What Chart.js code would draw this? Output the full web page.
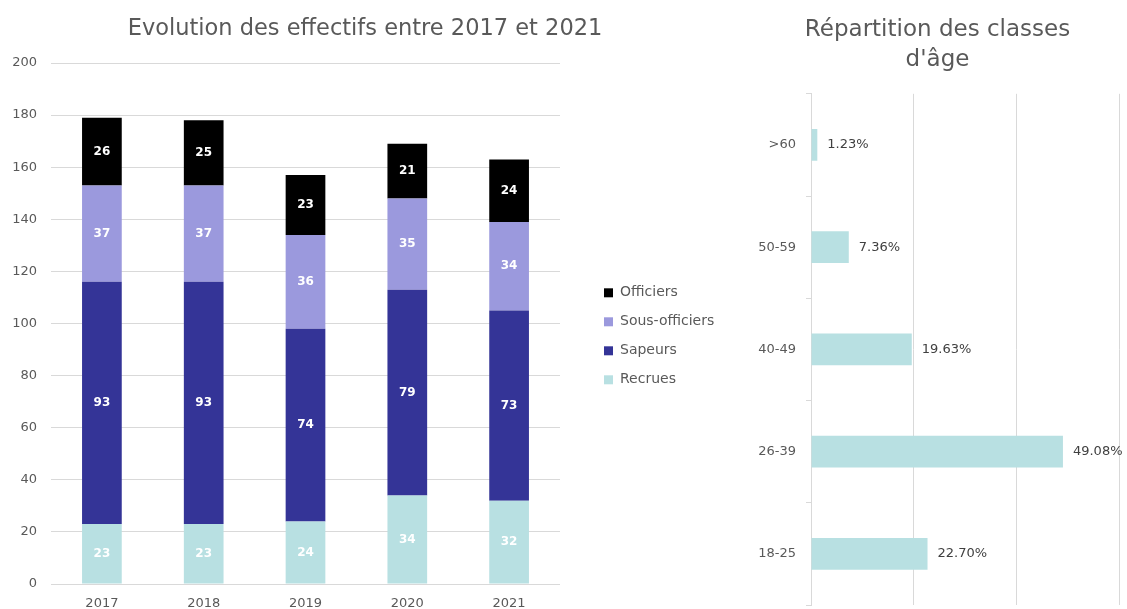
<!DOCTYPE html>
<html>
<head>
<meta charset="utf-8">
<script src="https://cdn.jsdelivr.net/npm/chart.js@4/dist/chart.umd.min.js"></script>
<style>
  html, body { margin: 0; padding: 0; background: #fff; overflow: hidden; width: 1127px; height: 609px; }
  #w1 { position: absolute; left: 0; top: 0; width: 740px; height: 620px; }
  #w2 { position: absolute; left: 756px; top: 0; width: 371px; height: 609px; }
</style>
</head>
<body>
<div id="w1"><canvas id="c1"></canvas></div>
<div id="w2"><canvas id="c2"></canvas></div>
<script>
// ---- Data: left chart ----
const years = ['2017', '2018', '2019', '2020', '2021'];
const recrues = [23, 23, 24, 34, 32];
const sapeurs = [93, 93, 74, 79, 73];
const sousOfficiers = [37, 37, 36, 35, 34];
const officiers = [26, 25, 23, 21, 24];
const yTicksMax = 200;
const yTicksStep = 20;

// ---- Data: right chart ----
const ageClasses = ['>60', '50-59', '40-49', '26-39', '18-25'];
const agePercents = [1.23, 7.36, 19.63, 49.08, 22.70];

const FONT = "'DejaVu Sans', sans-serif";
const GRAY = '#595959';
const GRID = '#d9d9d9';

Chart.defaults.font.family = FONT;
Chart.defaults.color = GRAY;
Chart.defaults.animation = false;
Chart.defaults.devicePixelRatio = 1;

const stackLabels = {
  id: 'stackLabels',
  afterDatasetsDraw(chart) {
    const ctx = chart.ctx;
    ctx.save();
    ctx.font = "bold 12px " + FONT;
    ctx.fillStyle = '#ffffff';
    ctx.textAlign = 'center';
    ctx.textBaseline = 'middle';
    chart.data.datasets.forEach((ds, i) => {
      const meta = chart.getDatasetMeta(i);
      meta.data.forEach((el, j) => {
        const cy = (el.y + el.base) / 2;
        ctx.fillText(String(ds.data[j]), el.x, cy);
      });
    });
    ctx.restore();
  }
};

const legendWidthFix = {
  id: 'legendWidthFix',
  afterInit(chart) {
    const lg = chart.legend;
    if (!lg) return;
    const f = lg.fit;
    lg.fit = function () { f.call(this); this.width = 140; };
  }
};

const endLabels = {
  id: 'endLabels',
  afterDatasetsDraw(chart) {
    const ctx = chart.ctx;
    ctx.save();
    ctx.font = "13px " + FONT;
    ctx.fillStyle = '#404040';
    ctx.textAlign = 'left';
    ctx.textBaseline = 'middle';
    chart.data.datasets.forEach((ds, i) => {
      const meta = chart.getDatasetMeta(i);
      meta.data.forEach((el, j) => {
        ctx.fillText(ds.data[j].toFixed(2) + '%', el.x + 10, el.y);
      });
    });
    ctx.restore();
  }
};

new Chart(document.getElementById('c1'), {
  type: 'bar',
  data: {
    labels: years,
    datasets: [
      { label: 'Recrues', data: recrues, backgroundColor: '#B8E0E2' },
      { label: 'Sapeurs', data: sapeurs, backgroundColor: '#343497' },
      { label: 'Sous-officiers', data: sousOfficiers, backgroundColor: '#9B99DD' },
      { label: 'Officiers', data: officiers, backgroundColor: '#000000' }
    ]
  },
  options: {
    responsive: true,
    maintainAspectRatio: false,
    layout: { padding: { left: 1, right: 11, top: 0, bottom: 0 } },
    datasets: { bar: { barPercentage: 0.39, categoryPercentage: 1 } },
    scales: {
      x: {
        stacked: true,
        grid: { display: false },
        border: { display: false },
        ticks: { font: { size: 13 }, padding: 4, color: GRAY },
        afterFit(scale) { scale.height = 36; }
      },
      y: {
        stacked: true,
        min: 0, max: yTicksMax,
        grid: { color: GRID, drawTicks: false, lineWidth: 1 },
        border: { display: false },
        ticks: { stepSize: yTicksStep, font: { size: 13 }, padding: 14, color: GRAY },
        afterFit(scale) { scale.width = 50; }
      },
      gap: {
        position: 'right',
        display: true,
        grid: { display: false },
        border: { display: false },
        ticks: { display: false },
        afterFit(scale) { scale.width = 29; }
      }
    },
    plugins: {
      title: {
        display: true,
        text: 'Evolution des effectifs entre 2017 et 2021',
        font: { size: 22.5, weight: 'normal' },
        color: GRAY,
        padding: { top: 16, bottom: 20 }
      },
      legend: {
        position: 'right',
        reverse: true,
        title: { display: true, text: ' ', font: { size: 13 }, padding: { top: 0, bottom: 37 } },
        labels: { boxWidth: 9, boxHeight: 9, padding: 15, font: { size: 14 }, color: GRAY }
      },
      tooltip: { enabled: false }
    }
  },
  plugins: [stackLabels, legendWidthFix]
});

new Chart(document.getElementById('c2'), {
  type: 'bar',
  data: {
    labels: ageClasses,
    datasets: [
      { label: 'Répartition', data: agePercents, backgroundColor: '#B8E0E2' }
    ]
  },
  options: {
    indexAxis: 'y',
    responsive: true,
    maintainAspectRatio: false,
    layout: { padding: { left: 0, right: 8, top: 0, bottom: 4 } },
    datasets: { bar: { barPercentage: 0.31, categoryPercentage: 1 } },
    scales: {
      x: {
        min: 0, max: 60,
        grid: { color: GRID, drawTicks: false },
        border: { display: false },
        ticks: { display: false, stepSize: 20 },
        afterFit(scale) { scale.height = 0; }
      },
      y: {
        grid: { offset: true, drawOnChartArea: false, drawTicks: true, tickLength: 5, color: GRID },
        border: { display: true, color: GRID },
        ticks: { font: { size: 13 }, padding: 10, color: GRAY },
        afterFit(scale) { scale.width = 55; scale.paddingTop = 0; scale.paddingBottom = 0; }
      }
    },
    plugins: {
      title: {
        display: true,
        text: ['Répartition des classes', "d'âge"],
        font: { size: 23, weight: 'normal', lineHeight: 1.3 },
        color: GRAY,
        padding: { top: 15, bottom: 19 }
      },
      legend: { display: false },
      tooltip: { enabled: false }
    }
  },
  plugins: [endLabels]
});
</script>
</body>
</html>
